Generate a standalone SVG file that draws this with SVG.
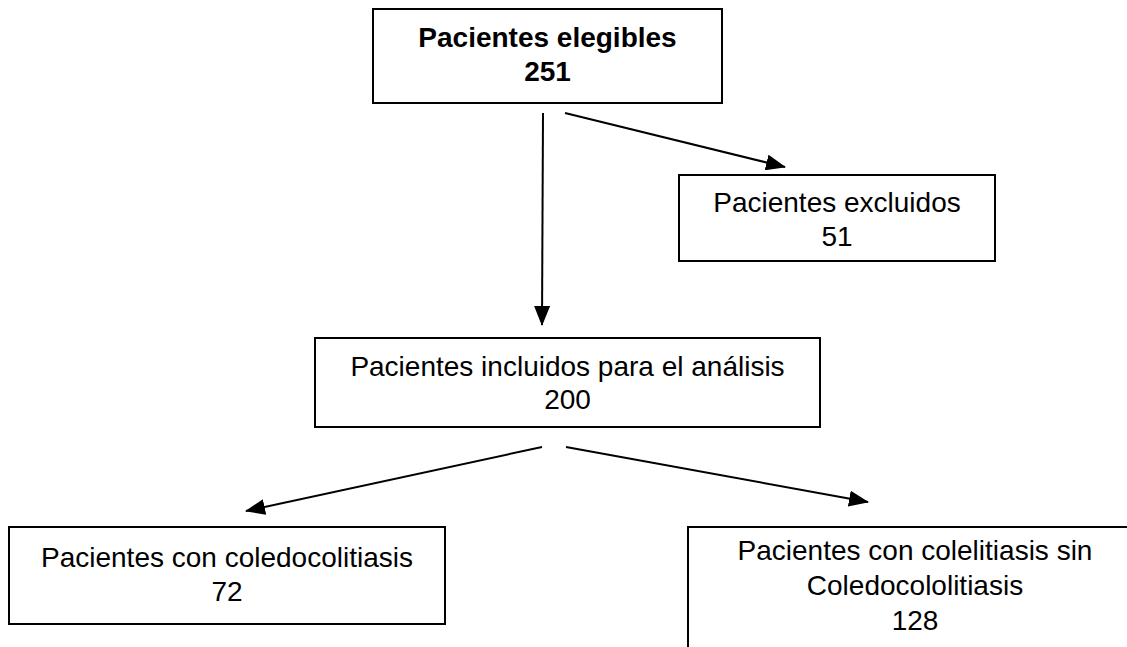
<svg xmlns="http://www.w3.org/2000/svg" width="1127" height="647" viewBox="0 0 1127 647">
<defs>
<marker id="ah" viewBox="0 0 20 16" refX="19" refY="8" markerWidth="20" markerHeight="16" markerUnits="userSpaceOnUse" orient="auto">
<path d="M0,0 L20,8 L0,16 z" fill="#000"/>
</marker>
<style>
.box{fill:#fff;stroke:#000;stroke-width:2}
.t{font-family:"Liberation Sans",Arial,sans-serif;font-size:28px;fill:#000;text-anchor:middle}
.b{font-weight:bold}
.c{stroke:#000;stroke-width:2;fill:none;marker-end:url(#ah)}
</style>
</defs>
<rect width="1127" height="647" fill="#fff"/>
<g id="connectors">
<line class="c" x1="543" y1="113" x2="542" y2="325"/>
<line class="c" x1="565" y1="113" x2="785" y2="167"/>
<line class="c" x1="542" y1="447" x2="246" y2="511"/>
<line class="c" x1="566" y1="447" x2="868" y2="502"/>
</g>
<g id="n1">
<rect class="box" x="373" y="9" width="349" height="94"/>
<text class="t b" x="547.5" y="47">Pacientes elegibles</text>
<text class="t b" x="547.5" y="81">251</text>
</g>
<g id="n2">
<rect class="box" x="679" y="175" width="316" height="86"/>
<text class="t" x="837" y="212">Pacientes excluidos</text>
<text class="t" x="837" y="246">51</text>
</g>
<g id="n3">
<rect class="box" x="315" y="338" width="505" height="89"/>
<text class="t" x="567.5" y="376">Pacientes incluidos para el análisis</text>
<text class="t" x="567.5" y="409">200</text>
</g>
<g id="n4">
<rect class="box" x="9" y="527" width="436" height="97"/>
<text class="t" x="227" y="567">Pacientes con coledocolitiasis</text>
<text class="t" x="227" y="601">72</text>
</g>
<g id="n5">
<path class="box" d="M688,648 V527 H1142 V648"/>
<text class="t" x="915" y="560">Pacientes con colelitiasis sin</text>
<text class="t" x="915" y="595">Coledocololitiasis</text>
<text class="t" x="915" y="630">128</text>
</g>
</svg>
